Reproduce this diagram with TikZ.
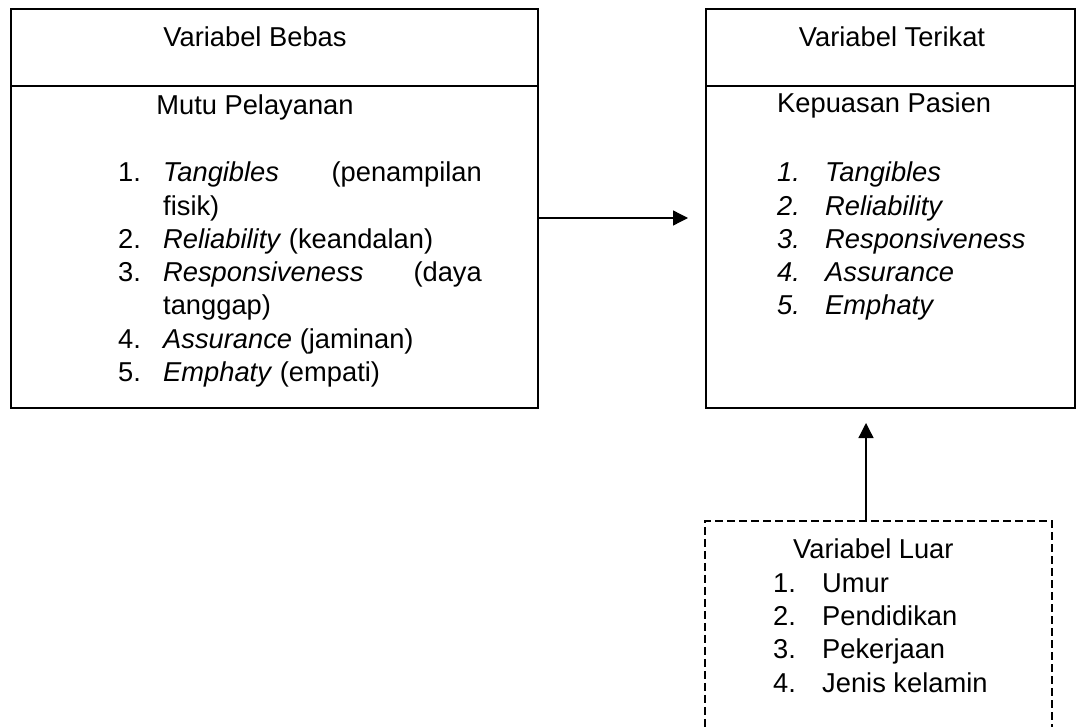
\documentclass[tikz,border=0pt]{standalone}
\usepackage{fontspec}
\setmainfont{Liberation Sans}
\usetikzlibrary{arrows.meta}
\begin{document}
\begin{tikzpicture}[x=1pt,y=-1pt,
  box/.style={draw,line width=1.8pt,inner sep=0pt,anchor=north west},
  dbox/.style={draw,line width=1.6pt,dash pattern=on 8pt off 4pt,inner sep=0pt,anchor=north west},
  txt/.style={anchor=base west,inner sep=0pt,font=\fontsize{27.3}{33}\selectfont},
  ttl/.style={txt,anchor=base},
  rtxt/.style={txt,anchor=base east},
  arr/.style={line width=1.3pt,-{Triangle[length=15pt,width=15pt]}}]
\useasboundingbox (0,0) rectangle (1076,727);
\clip (0,0) rectangle (1076,727);
% boxes
\node[box,minimum width=527pt,minimum height=399pt] (lb) at (10,8) {};
\node[box,minimum width=369pt,minimum height=399pt] (rb) at (705,8) {};
\node[dbox,minimum width=347pt,minimum height=260pt] (ub) at (704,520) {};
\coordinate (div) at (0,86);
\draw[line width=1.8pt] (lb.west |- div) -- (lb.east |- div);
\draw[line width=1.8pt] (rb.west |- div) -- (rb.east |- div);
% left box text
\node[ttl] (lt) at (255,47) {Variabel Bebas};
\node[ttl] (ls) at (255,115) {Mutu Pelayanan};
\node[txt] (l1n) at (118,182) {1.};
\node[txt] (l1) at (163,182) {\textit{Tangibles}};
\node[rtxt] (l1b) at (482,182) {(penampilan};
\node[txt] (l1c) at (163,215.2) {fisik)};
\node[txt] (l2n) at (118,248.4) {2.};
\node[txt] (l2) at (163,248.4) {\textit{Reliability} (keandalan)};
\node[txt] (l3n) at (118,281.6) {3.};
\node[txt] (l3) at (163,281.6) {\textit{Responsiveness}};
\node[rtxt] (l3b) at (482,281.6) {(daya};
\node[txt] (l3c) at (163,314.8) {tanggap)};
\node[txt] (l4n) at (118,348) {4.};
\node[txt] (l4) at (163,348) {\textit{Assurance} (jaminan)};
\node[txt] (l5n) at (118,381.2) {5.};
\node[txt] (l5) at (163,381.2) {\textit{Emphaty} (empati)};
% right box text
\node[ttl] (rt) at (892,47) {Variabel Terikat};
\node[txt] (rs) at (777,113) {Kepuasan Pasien};
\node[txt] (r1n) at (777,182) {\textit{1.}};
\node[txt] (r1) at (825,182) {\textit{Tangibles}};
\node[txt] (r2n) at (777,215.2) {\textit{2.}};
\node[txt] (r2) at (825,215.2) {\textit{Reliability}};
\node[txt] (r3n) at (777,248.4) {\textit{3.}};
\node[txt] (r3) at (825,248.4) {\textit{Responsiveness}};
\node[txt] (r4n) at (777,281.6) {\textit{4.}};
\node[txt] (r4) at (825,281.6) {\textit{Assurance}};
\node[txt] (r5n) at (777,314.8) {\textit{5.}};
\node[txt] (r5) at (825,314.8) {\textit{Emphaty}};
% outside variable text
\node[txt] (ut) at (793,558) {Variabel Luar};
\node[txt] (u1n) at (773,592) {1.};
\node[txt] (u1) at (822,592) {Umur};
\node[txt] (u2n) at (773,625) {2.};
\node[txt] (u2) at (822,625) {Pendidikan};
\node[txt] (u3n) at (773,658.5) {3.};
\node[txt] (u3) at (822,658.5) {Pekerjaan};
\node[txt] (u4n) at (773,692) {4.};
\node[txt] (u4) at (822,692) {Jenis kelamin};
% connectors
\coordinate (ay) at (0,218);
\coordinate (ax) at (866,0);
\coordinate (tip) at (866,423);
\draw[arr] (lb.east |- ay) -- ([xshift=-17pt]rb.west |- ay);
\draw[arr] (ub.north -| ax) -- (tip);
\end{tikzpicture}
\end{document}
